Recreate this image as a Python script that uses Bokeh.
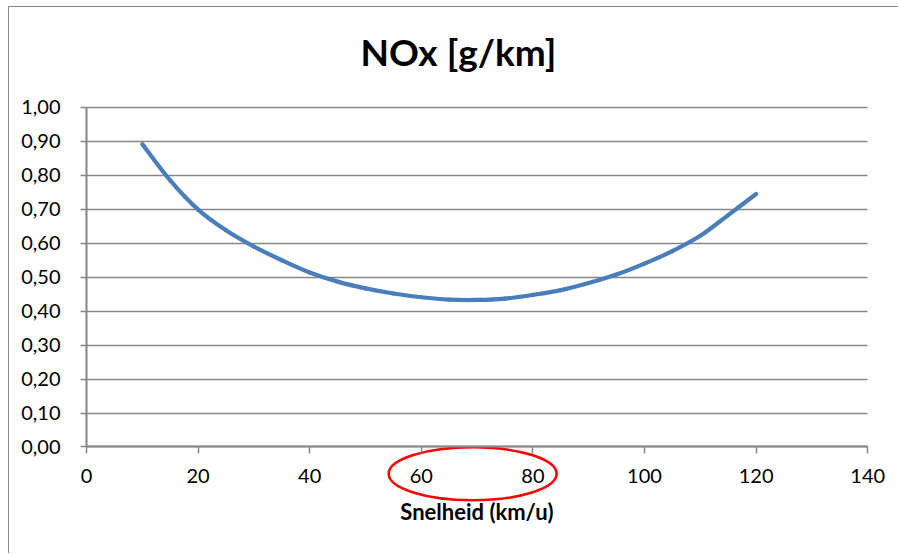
from bokeh.plotting import figure
from bokeh.models import Range1d, FixedTicker, Title
from bokeh.embed import file_html
from bokeh.resources import INLINE

# ---- data ----
speed = [10, 15, 20, 25, 30, 35, 40, 45, 50, 55, 60, 65, 70,
         75, 80, 85, 90, 95, 100, 105, 110, 115, 120]
nox = [0.892, 0.785, 0.699, 0.638, 0.590, 0.550, 0.514, 0.487, 0.467,
       0.452, 0.441, 0.434, 0.433, 0.437, 0.448, 0.462, 0.483, 0.508,
       0.540, 0.577, 0.622, 0.683, 0.745]

x_ticks = [0, 20, 40, 60, 80, 100, 120, 140]
y_ticks = [0.0, 0.1, 0.2, 0.3, 0.4, 0.5, 0.6, 0.7, 0.8, 0.9, 1.0]
y_tick_labels = ["0,00", "0,10", "0,20", "0,30", "0,40", "0,50",
                 "0,60", "0,70", "0,80", "0,90", "1,00"]

title_text = "NOx [g/km]"
x_label = "Snelheid (km/u)"

# highlight ring around the 60 / 80 tick labels (centre and full extents)
ring_x, ring_y = 69.2, -0.079
ring_w, ring_h = 30.1, 0.156

GRID = "#868686"
FONT = "Lato"

# visible window around the axes (axes are pinned at 0, so labels stay inside)
X_VIEW = (-13.8, 145.7)
Y_VIEW = (-0.3167, 1.0440)

p = figure(width=890, height=547, output_backend="svg", toolbar_location=None,
           x_range=Range1d(*X_VIEW), y_range=Range1d(*Y_VIEW),
           min_border_left=0, min_border_right=0,
           min_border_top=83, min_border_bottom=0,
           background_fill_color="white", border_fill_color="white",
           margin=(6, 0, 0, 8),
           styles={"border-left": "1px solid #8c8c8c",
                   "border-top": "1px solid #8c8c8c"})
p.outline_line_color = None

p.add_layout(Title(text=title_text, align="left", text_font=FONT,
                   text_font_style="bold", text_font_size="37px",
                   text_color="black", standoff=38, offset=351), "above")

# axes
p.xaxis.ticker = FixedTicker(ticks=x_ticks)
p.yaxis.ticker = FixedTicker(ticks=y_ticks)
p.yaxis.major_label_overrides = {t: l for t, l in zip(y_ticks, y_tick_labels)}
p.yaxis.bounds = (0, 1)
p.xaxis.bounds = (0, 140)
p.xaxis.fixed_location = 0
p.yaxis.fixed_location = 0
for ax in (p.xaxis, p.yaxis):
    ax.axis_line_color = GRID
    ax.axis_line_width = 2
    ax.major_tick_line_color = GRID
    ax.major_tick_line_width = 1.5
    ax.major_tick_in = 0
    ax.minor_tick_line_color = None
    ax.major_label_text_font = FONT
    ax.major_label_text_font_size = "20px"
    ax.major_label_text_color = "black"
p.yaxis.major_tick_out = 6
p.xaxis.major_tick_out = 7
p.yaxis.major_label_standoff = 20
p.xaxis.major_label_standoff = 15
p.xaxis.axis_label = x_label
p.xaxis.axis_label_text_font = FONT
p.xaxis.axis_label_text_font_style = "bold"
p.xaxis.axis_label_text_font_size = "22px"
p.xaxis.axis_label_text_color = "black"
p.xaxis.axis_label_standoff = 12

p.xgrid.grid_line_color = None
p.ygrid.grid_line_color = GRID
p.ygrid.grid_line_width = 1.3
p.ygrid.cross_bounds = (0, 140)

# smoothed line (Catmull-Rom segments drawn as cubic Beziers, like Excel's smoothing)
n = len(speed)
x0, y0, x1, y1, cx0, cy0, cx1, cy1 = [], [], [], [], [], [], [], []
for i in range(n - 1):
    a = max(i - 1, 0)
    d = min(i + 2, n - 1)
    x0.append(speed[i]); y0.append(nox[i])
    x1.append(speed[i + 1]); y1.append(nox[i + 1])
    cx0.append(speed[i] + (speed[i + 1] - speed[a]) / 6)
    cy0.append(nox[i] + (nox[i + 1] - nox[a]) / 6)
    cx1.append(speed[i + 1] - (speed[d] - speed[i]) / 6)
    cy1.append(nox[i + 1] - (nox[d] - nox[i]) / 6)
p.bezier(x0=x0, y0=y0, x1=x1, y1=y1, cx0=cx0, cy0=cy0, cx1=cx1, cy1=cy1,
         line_color="#4a7ebb", line_width=4.2, line_cap="round")

p.ellipse(x=[ring_x], y=[ring_y], width=[ring_w], height=[ring_h],
          fill_color=None, line_color="#ff0000", line_width=2.5)

open("out.html", "w").write(file_html(p, INLINE))
